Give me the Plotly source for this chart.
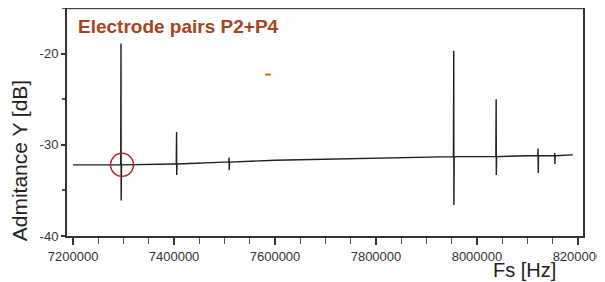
import plotly.graph_objects as go

# Baseline of the admittance curve (Hz, dB)
base_freq = [7200000, 7290000, 7400000, 7500000, 7600000, 7800000, 7950000, 8036000, 8100000, 8190000]
base_val = [-32.2, -32.2, -32.1, -31.9, -31.7, -31.5, -31.3, -31.3, -31.2, -31.1]

# Resonance spikes (Hz, dB)
spike_freq = [7295000, 7405000, 7509000, 7954000, 8038000, 8121000, 8154000]
spike_base = [-32.2, -32.1, -31.9, -31.3, -31.3, -31.2, -31.2]
spike_high = [-18.9, -28.6, -31.4, -19.7, -25.0, -30.4, -30.9]
spike_low = [-36.1, -33.3, -32.8, -36.6, -33.3, -33.1, -32.1]

# Marked point (red circle) and small orange dash
marked_freq = [7297000]
marked_val = [-32.2]
dash_freq = [7586000]
dash_val = [-22.3]

x_tickvals = [7200000, 7400000, 7600000, 7800000, 8000000, 8200000]
x_ticktext = ["7200000", "7400000", "7600000", "7800000", "8000000", "8200000"]
y_tickvals = [-40, -30, -20]
y_ticktext = ["-40", "-30", "-20"]

# assemble the curve: baseline points + spike excursions
pts = list(zip(base_freq, base_val))
for f, b, h, l in zip(spike_freq, spike_base, spike_high, spike_low):
    pts += [(f - 600, b), (f, h), (f + 300, l), (f + 900, b)]
pts.sort(key=lambda p: p[0])
xs = [p[0] for p in pts]
ys = [p[1] for p in pts]

FONT = "Liberation Sans, Arial, sans-serif"

fig = go.Figure()
fig.add_trace(go.Scatter(x=xs, y=ys, mode="lines",
                         line=dict(color="#1e1e1e", width=1.4), hoverinfo="skip"))
fig.add_trace(go.Scatter(x=marked_freq, y=marked_val, mode="markers",
                         marker=dict(symbol="circle-open", size=23,
                                     line=dict(color="#b52020", width=1.5), color="#b52020")))
fig.add_trace(go.Scatter(x=dash_freq, y=dash_val, mode="markers",
                         marker=dict(symbol="line-ew-open", size=4, color="#d46a1a",
                                     line=dict(color="#d46a1a", width=2))))

# page body has an 8px default margin, so the figure is sized/offset to compensate
fig.update_layout(
    width=597, height=274,
    margin=dict(l=59, r=22, t=0, b=46, autoexpand=False),
    paper_bgcolor="white", plot_bgcolor="white",
    showlegend=False,
    font=dict(family=FONT, color="#333333", size=13),
    xaxis=dict(range=[7188000, 8210000], tickvals=x_tickvals, ticktext=x_ticktext,
               ticks="outside", ticklen=7, tickwidth=1.5, tickcolor="#333",
               minor=dict(dtick=50000, tick0=7200000, ticks="outside", ticklen=6,
                          tickwidth=1.2, tickcolor="#555"),
               showgrid=False, zeroline=False, automargin=False,
               showline=True, linecolor="#333", linewidth=2, mirror=False,
               tickfont=dict(size=13, color="#333")),
    yaxis=dict(range=[-40, -15], tickvals=y_tickvals, ticktext=y_ticktext,
               ticks="outside", ticklen=4, tickwidth=2, tickcolor="#333",
               minor=dict(dtick=5, tick0=-40, ticks="outside", ticklen=3,
                          tickwidth=1.5, tickcolor="#555"),
               showgrid=False, zeroline=False, automargin=False,
               showline=True, linecolor="#333", linewidth=2, mirror=True,
               tickfont=dict(size=13, color="#333")),
    shapes=[dict(type="line", xref="paper", yref="paper", x0=0, x1=1, y0=0.997, y1=0.997,
                 line=dict(color="#222", width=1))],
    annotations=[
        dict(text="<b>Electrode pairs P2+P4</b>", xref="paper", yref="paper",
             x=0.017, y=0.975, xanchor="left", yanchor="top", showarrow=False,
             font=dict(family=FONT, size=19, color="#a8441c")),
        dict(text="Admitance Y [dB]", xref="paper", yref="paper",
             x=-0.092, y=0.33, xanchor="center", yanchor="middle", textangle=-90,
             showarrow=False,
             font=dict(family=FONT, size=21, color="#222")),
        dict(text="Fs [Hz]", xref="paper", yref="paper",
             x=0.886, y=-0.149, xanchor="center", yanchor="middle", showarrow=False,
             font=dict(family=FONT, size=20, color="#222")),
    ],
)

fig.write_html("out.html")
